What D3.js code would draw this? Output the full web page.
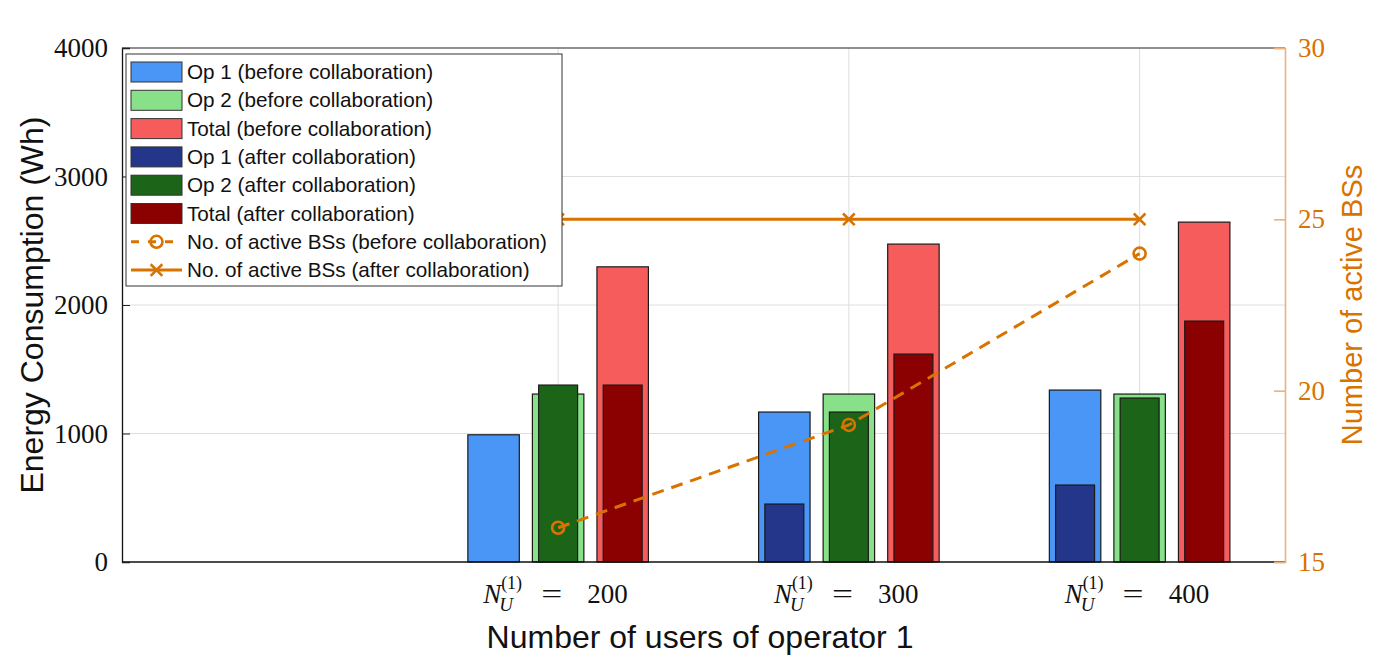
<!DOCTYPE html>
<html>
<head>
<meta charset="utf-8">
<script src="https://cdn.jsdelivr.net/npm/d3@7"></script>
<style>
	body { margin: 0; background: #fff; }
	svg { display: block; }
</style>
</head>
<body>
<svg id="fig" width="1384" height="657"></svg>
<script>
// data
const categories = [200, 300, 400];
const op1_before = [990, 1167, 1338];
const op2_before = [1307, 1307, 1307];
const total_before = [2297, 2474, 2645];
const op1_after = [0, 451, 599];
const op2_after = [1377, 1167, 1276];
const total_after = [1377, 1618, 1875];
const bs_before = [16, 19, 24];
const bs_after = [25, 25, 25];
const left_ticks = [0, 1000, 2000, 3000, 4000];
const right_ticks = [15, 20, 25, 30];

const legend_labels = [
	"Op 1 (before collaboration)",
	"Op 2 (before collaboration)",
	"Total (before collaboration)",
	"Op 1 (after collaboration)",
	"Op 2 (after collaboration)",
	"Total (after collaboration)",
	"No. of active BSs (before collaboration)",
	"No. of active BSs (after collaboration)"
];

const ORANGE = "#d97300";
const colors = {
	op1b: "#4a96f7", op2b: "#88e088", totb: "#f75c5c",
	op1a: "#233689", op2a: "#1c6518", tota: "#8b0000"
};

const svg = d3.select("#fig");
const m = { left: 122, right: 1285, top: 48, bottom: 562 };

// categories sit at positions 1..3, axis runs from -0.5 to 3.5
const x = d3.scaleLinear().domain([-0.5, 3.5]).range([m.left, m.right]);
const y = d3.scaleLinear().domain([0, 4000]).range([m.bottom, m.top]);
const y2 = d3.scaleLinear().domain([15, 30]).range([m.bottom, m.top]);

const SANS = "'Liberation Sans', Arial, sans-serif";
const SERIF = "'Liberation Serif', 'Times New Roman', serif";

// grid
const grid = svg.append("g").attr("stroke", "#dedede").attr("stroke-width", 1);
grid.selectAll(".gy").data([1000, 2000, 3000]).join("line")
	.attr("x1", m.left).attr("x2", m.right)
	.attr("y1", d => y(d)).attr("y2", d => y(d));
grid.selectAll(".gx").data(categories).join("line")
	.attr("x1", (d, i) => x(i + 1)).attr("x2", (d, i) => x(i + 1))
	.attr("y1", m.top).attr("y2", m.bottom);

// bars: wide = before, narrow = after
const offset = 0.222, wide = 0.177, narrow = 0.134;
const series = [
	{ vals: op1_before, off: -offset, w: wide, c: colors.op1b },
	{ vals: op2_before, off: 0, w: wide, c: colors.op2b },
	{ vals: total_before, off: offset, w: wide, c: colors.totb },
	{ vals: op1_after, off: -offset, w: narrow, c: colors.op1a },
	{ vals: op2_after, off: 0, w: narrow, c: colors.op2a },
	{ vals: total_after, off: offset, w: narrow, c: colors.tota }
];
const bars = svg.append("g");
series.forEach(s => {
	const pts = s.vals.map((v, i) => ({ v: v, pos: i + 1 })).filter(d => d.v > 0);
	bars.append("g").selectAll("rect").data(pts).join("rect")
		.attr("x", d => x(d.pos + s.off - s.w / 2))
		.attr("width", x(s.w) - x(0))
		.attr("y", d => y(d.v))
		.attr("height", d => y(0) - y(d.v))
		.attr("fill", s.c)
		.attr("stroke", "#1a1a1a")
		.attr("stroke-width", 1.2);
});

// lines on right axis
const line = d3.line().x((d, i) => x(i + 1)).y(d => y2(d));
svg.append("path").datum(bs_before).attr("d", line)
	.attr("fill", "none").attr("stroke", ORANGE).attr("stroke-width", 3)
	.attr("stroke-dasharray", "12,8");
svg.append("g").selectAll("circle").data(bs_before).join("circle")
	.attr("cx", (d, i) => x(i + 1)).attr("cy", d => y2(d)).attr("r", 6)
	.attr("fill", "none").attr("stroke", ORANGE).attr("stroke-width", 2.6);
svg.append("path").datum(bs_after).attr("d", line)
	.attr("fill", "none").attr("stroke", ORANGE).attr("stroke-width", 3);
const cross = d3.symbol().type(d3.symbolX).size(90);
svg.append("g").selectAll("path").data(bs_after).join("path")
	.attr("transform", (d, i) => `translate(${x(i + 1)},${y2(d)})`)
	.attr("d", cross)
	.attr("fill", "none").attr("stroke", ORANGE).attr("stroke-width", 2.6);

// axes box
svg.append("line").attr("x1", m.left).attr("x2", m.right).attr("y1", m.top).attr("y2", m.top)
	.attr("stroke", "#222").attr("stroke-width", 1.2);
svg.append("line").attr("x1", m.left).attr("x2", m.right).attr("y1", m.bottom).attr("y2", m.bottom)
	.attr("stroke", "#111").attr("stroke-width", 1.5);

// left axis
const yAxis = svg.append("g").attr("transform", `translate(${m.left},0)`)
	.call(d3.axisLeft(y).tickValues(left_ticks).tickSize(-8).tickPadding(14).tickFormat(d3.format("d")));
yAxis.select(".domain").attr("stroke", "#111").attr("stroke-width", 1.3);
yAxis.selectAll(".tick line").attr("stroke", "#222");
yAxis.selectAll("text").attr("font-family", SERIF).attr("font-size", 27).attr("fill", "#111");

// right axis
const y2Axis = svg.append("g").attr("transform", `translate(${m.right},0)`)
	.call(d3.axisRight(y2).tickValues(right_ticks).tickSize(-11).tickPadding(13).tickFormat(d3.format("d")));
y2Axis.select(".domain").attr("stroke", "#ecb27a").attr("stroke-width", 1.6);
y2Axis.selectAll(".tick line").attr("stroke", "#ecb27a").attr("stroke-width", 1.6);
y2Axis.selectAll("text").attr("font-family", SERIF).attr("font-size", 27).attr("fill", ORANGE);

// x tick labels: N_U^(1) = value
categories.forEach((c, i) => {
	const g = svg.append("g").attr("transform", `translate(${x(i + 1)},603)`)
		.attr("font-family", SERIF).attr("fill", "#111");
	g.append("text").attr("x", -75).attr("font-size", 27).attr("font-style", "italic").text("N");
	g.append("text").attr("x", -59).attr("y", 8).attr("font-size", 19).attr("font-style", "italic").text("U");
	g.append("text").attr("x", -57).attr("y", -14).attr("font-size", 18).text("(1)");
	g.append("text").attr("x", -17).attr("font-size", 27)
		.attr("textLength", 21).attr("lengthAdjust", "spacingAndGlyphs").text("=");
	g.append("text").attr("x", 29).attr("font-size", 27).text(c);
});

// titles
svg.append("text").attr("x", 700).attr("y", 648).attr("text-anchor", "middle")
	.attr("font-family", SANS).attr("font-size", 32).attr("fill", "#111")
	.text("Number of users of operator 1");
svg.append("text").attr("transform", `translate(43,${(m.top + m.bottom) / 2}) rotate(-90)`)
	.attr("text-anchor", "middle").attr("font-family", SANS).attr("font-size", 32).attr("fill", "#111")
	.text("Energy Consumption (Wh)");
svg.append("text").attr("transform", `translate(1362,${(m.top + m.bottom) / 2}) rotate(-90)`)
	.attr("text-anchor", "middle").attr("font-family", SANS).attr("font-size", 29).attr("fill", ORANGE)
	.text("Number of active BSs");

// legend
const lg = svg.append("g").attr("transform", "translate(126,54)");
lg.append("rect").attr("width", 436).attr("height", 232)
	.attr("fill", "#fff").attr("stroke", "#333").attr("stroke-width", 1);
const swatchColors = [colors.op1b, colors.op2b, colors.totb, colors.op1a, colors.op2a, colors.tota];
legend_labels.forEach((lab, i) => {
	const cy = 18 + i * 28.3;
	const row = lg.append("g").attr("transform", `translate(0,${cy})`);
	if (i < 6) {
		row.append("rect").attr("x", 5).attr("y", -10).attr("width", 51).attr("height", 20)
			.attr("fill", swatchColors[i]).attr("stroke", "#333").attr("stroke-width", 1);
	} else if (i === 6) {
		row.append("line").attr("x1", 5).attr("x2", 56).attr("stroke", ORANGE)
			.attr("stroke-width", 3).attr("stroke-dasharray", "8,9");
		row.append("circle").attr("cx", 30.5).attr("r", 6).attr("fill", "none")
			.attr("stroke", ORANGE).attr("stroke-width", 2.6);
	} else {
		row.append("line").attr("x1", 5).attr("x2", 56).attr("stroke", ORANGE).attr("stroke-width", 3);
		row.append("path").attr("transform", "translate(30.5,0)").attr("d", cross)
			.attr("fill", "none").attr("stroke", ORANGE).attr("stroke-width", 2.6);
	}
	row.append("text").attr("x", 61).attr("y", 7).attr("font-family", SANS)
		.attr("font-size", 20.7).attr("fill", "#111").text(lab);
});
</script>
</body>
</html>
